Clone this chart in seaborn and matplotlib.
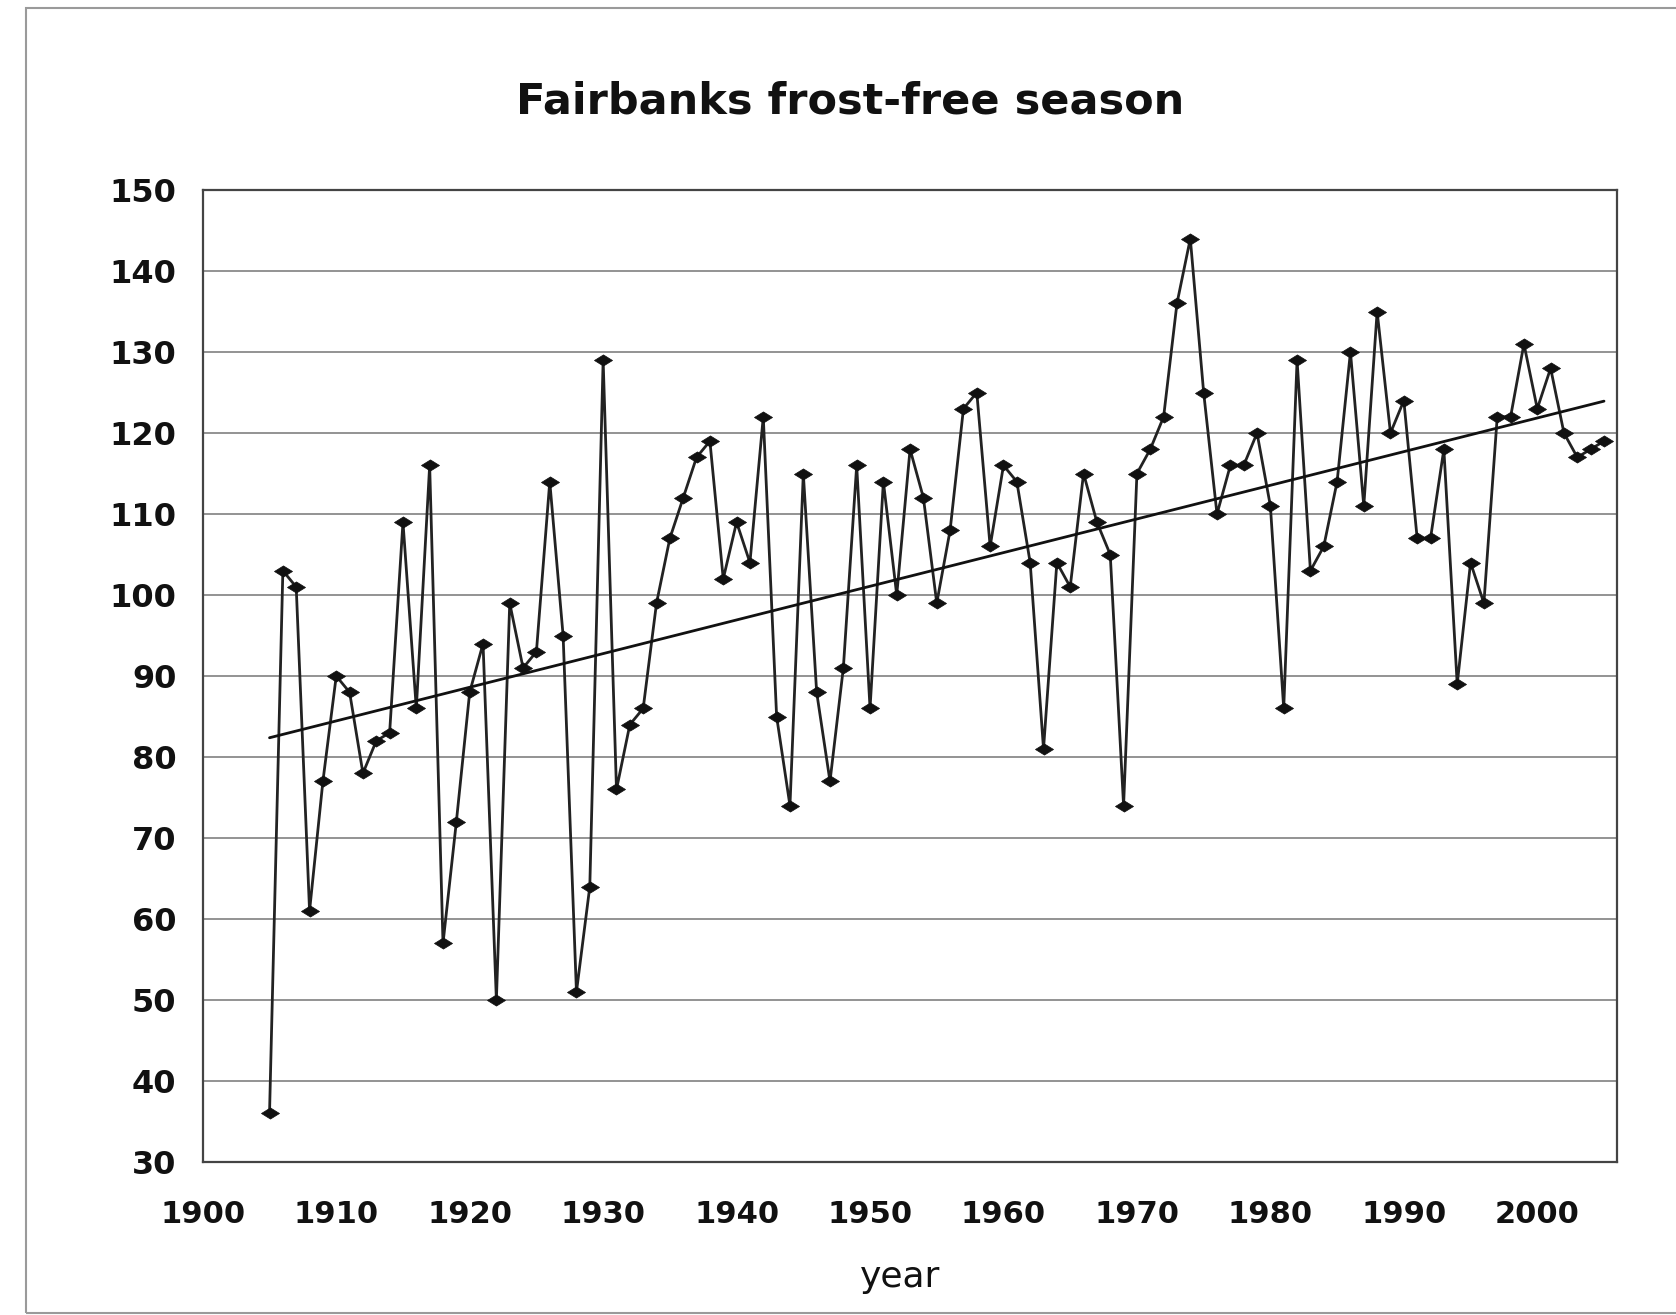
import numpy as np
import pandas as pd
import seaborn as sns
import matplotlib.pyplot as plt
from matplotlib.path import Path
from matplotlib.patches import Rectangle

# frost-free season length (days), Fairbanks
years = list(range(1905, 2006))
days = [36, 103, 101, 61, 77, 90, 88, 78, 82, 83,
        109, 86, 116, 57, 72, 88, 94, 50, 99, 91,
        93, 114, 95, 51, 64, 129, 76, 84, 86, 99,
        107, 112, 117, 119, 102, 109, 104, 122, 85, 74,
        115, 88, 77, 91, 116, 86, 114, 100, 118, 112,
        99, 108, 123, 125, 106, 116, 114, 104, 81, 104,
        101, 115, 109, 105, 74, 115, 118, 122, 136, 144,
        125, 110, 116, 116, 120, 111, 86, 129, 103, 106,
        114, 130, 111, 135, 120, 124, 107, 107, 118, 89,
        104, 99, 122, 122, 131, 123, 128, 120, 117, 118,
        119]

x_ticks = list(range(1900, 2001, 10))
y_ticks = list(range(30, 151, 10))

df = pd.DataFrame({'year': years, 'days': days})

sns.set_theme(style="white")
plt.rcParams['font.family'] = ['DejaVu Sans']

fig = plt.figure(figsize=(16.76, 13.15), dpi=100)
ax = fig.add_axes([0.121, 0.1163, 0.844, 0.7392])

# flat diamond marker like the Excel one
diamond = Path([(-1, 0), (0, 0.62), (1, 0), (0, -0.62), (-1, 0)],
               [Path.MOVETO, Path.LINETO, Path.LINETO, Path.LINETO, Path.CLOSEPOLY])

sns.lineplot(data=df, x='year', y='days', ax=ax, color='#222222', linewidth=2.0,
             marker=diamond, markersize=13, markerfacecolor='#111111',
             markeredgecolor='#111111', markeredgewidth=0.5, zorder=3)

# linear trend
sns.regplot(data=df, x='year', y='days', ax=ax, scatter=False, ci=None,
            line_kws={'color': '#111111', 'linewidth': 2.0, 'zorder': 4})

ax.set_xlim(1900, 2006)
ax.set_ylim(30, 150)
ax.set_xticks(x_ticks)
ax.set_yticks(y_ticks)
ax.yaxis.grid(True, color='#8a8a8a', linewidth=1.3)
ax.xaxis.grid(False)
ax.set_axisbelow(True)

for s in ax.spines.values():
    s.set_color('#444444')
    s.set_linewidth(1.6)

ax.tick_params(axis='both', which='major', labelsize=23, colors='#111111',
               length=5, width=1, direction='out')
ax.tick_params(axis='x', pad=22, color='#999999', labelsize=22)
ax.tick_params(axis='y', pad=14, color='#999999')
for lbl in ax.get_xticklabels() + ax.get_yticklabels():
    lbl.set_fontweight('bold')

ax.set_xlabel('')
ax.set_ylabel('')

fig.text(0.507, 0.923, 'Fairbanks frost-free season', ha='center', va='center',
         fontsize=31, fontweight='bold', color='#111111')
fig.text(0.537, 0.029, 'year', ha='center', va='center', fontsize=26,
         fontweight='medium', color='#111111')

# outer chart frame
fig.patches.append(Rectangle((0.0155, 0.0015), 1.0, 0.9925, transform=fig.transFigure,
                             fill=False, edgecolor='#9a9a9a', linewidth=1.5))

fig.savefig('out.png', dpi=100, facecolor='white')
